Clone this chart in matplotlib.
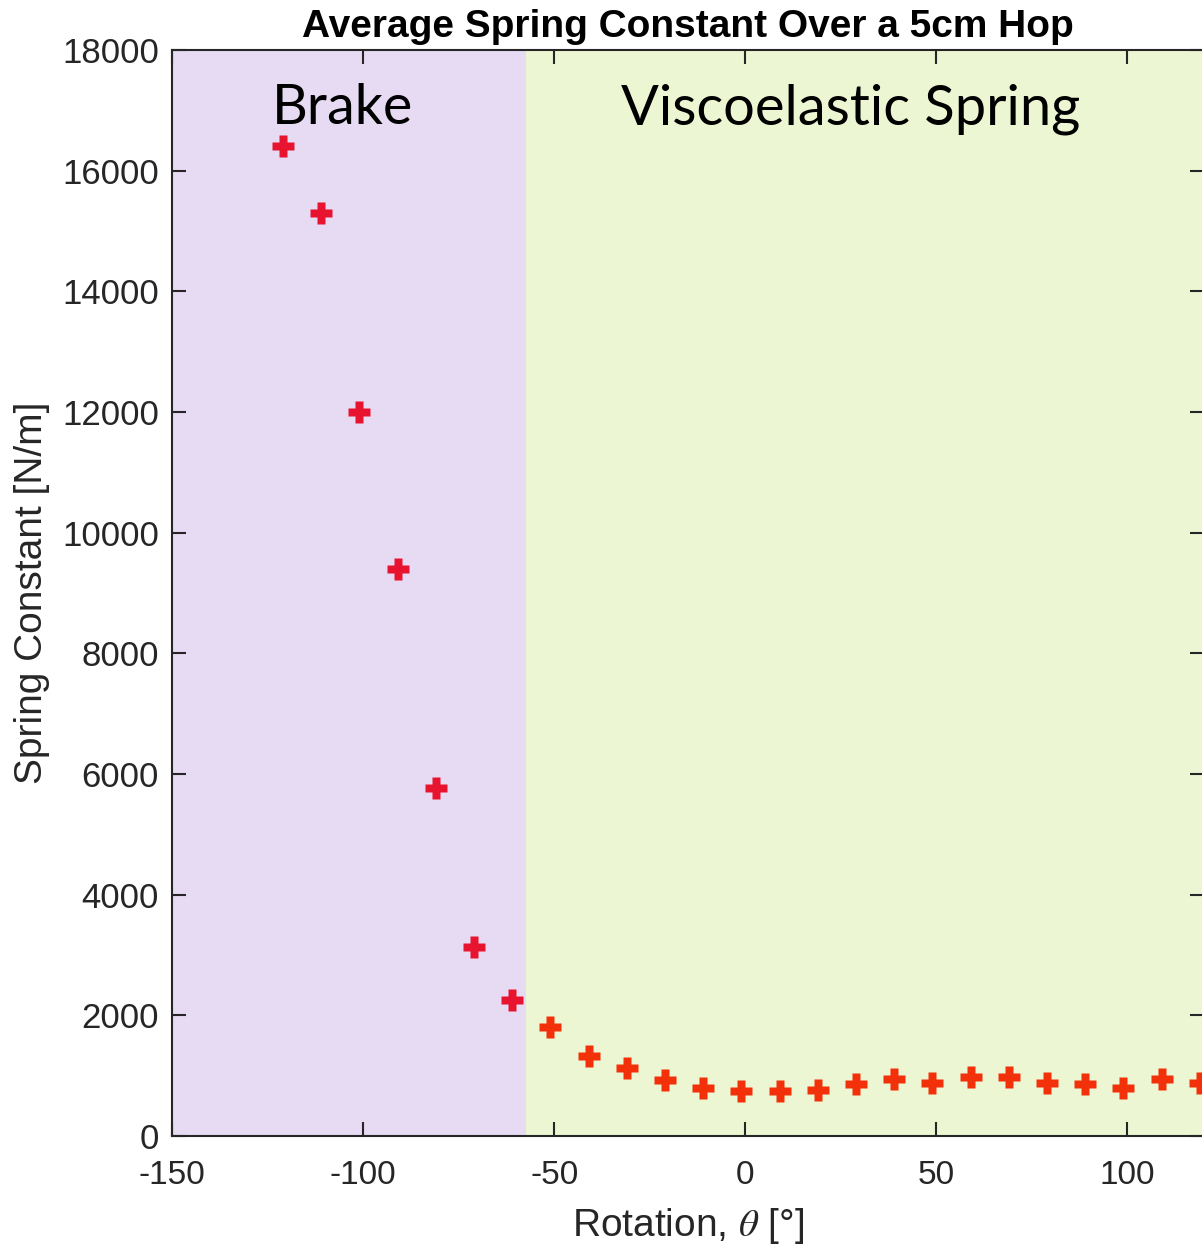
import matplotlib
matplotlib.use("Agg")
import matplotlib.pyplot as plt
import numpy as np

plt.rcParams["axes.unicode_minus"] = False
plt.rcParams["mathtext.fontset"] = "stix"

# Rotation angles [deg] and average spring constant [N/m]
rotation_deg = [-121, -111, -101, -91, -81, -71, -61,
                -51, -41, -31, -21, -11, -1, 9, 19, 29, 39, 49,
                59, 69, 79, 89, 99, 109, 119]
spring_constant = [16400, 15300, 12000, 9400, 5770, 3130, 2260,
                   1810, 1330, 1120, 920, 800, 750, 750, 760, 860, 940, 880,
                   970, 970, 880, 860, 800, 940, 870]

brake_limit = -57.5          # boundary between the two regimes
region_labels = ["Brake", "Viscoelastic Spring"]
xticks = [-150, -100, -50, 0, 50, 100]
yticks = list(range(0, 18001, 2000))

fig = plt.figure(figsize=(12.02, 12.49), dpi=100)
ax = fig.add_axes([0.1433, 0.0905, 0.8581, 0.8695])

xmin, xmax = -150, 120
ymin, ymax = 0, 18000
ax.set_xlim(xmin, xmax)
ax.set_ylim(ymin, ymax)

ax.axvspan(xmin, brake_limit, color="#e7daf3", zorder=0, lw=0)
ax.axvspan(brake_limit, xmax, color="#edf6d2", zorder=0, lw=0)

x = np.array(rotation_deg)
y = np.array(spring_constant)
is_brake = x < brake_limit
ax.plot(x[is_brake], y[is_brake], "P", ms=16, color="#e8132f", mec="none", zorder=3)
ax.plot(x[~is_brake], y[~is_brake], "P", ms=16, color="#f2310b", mec="none", zorder=3)

label_font = ["Lato", "DejaVu Sans"]
ax.text(-124.0, 16770, region_labels[0], fontsize=40, family=label_font,
        ha="left", va="baseline", color="black")
ax.text(-32.6, 16770, region_labels[1], fontsize=40.3, family=label_font,
        ha="left", va="baseline", color="black")

ax.set_xticks(xticks)
ax.set_yticks(yticks)
tick_color = "#262626"
ax.tick_params(direction="in", length=10, width=1.5, colors=tick_color,
               top=True, right=True)
ax.tick_params(axis="y", labelsize=25, pad=9.5)
ax.tick_params(axis="x", labelsize=24, pad=17)
for lab in ax.get_xticklabels() + ax.get_yticklabels():
    lab.set_fontfamily("Liberation Sans")
for s in ax.spines.values():
    s.set_color(tick_color)
    s.set_linewidth(1.5)

ax.set_title("Average Spring Constant Over a 5cm Hop", fontsize=28,
             fontweight="bold", family="Liberation Sans", pad=9)
ax.set_xlabel(r"Rotation, $\theta$ [°]", fontsize=28, family="Liberation Sans",
              color=tick_color, labelpad=11)
ax.set_ylabel("Spring Constant [N/m]", fontsize=28, family="Liberation Sans",
              color=tick_color, labelpad=9)

fig.savefig("out.png", dpi=100)
